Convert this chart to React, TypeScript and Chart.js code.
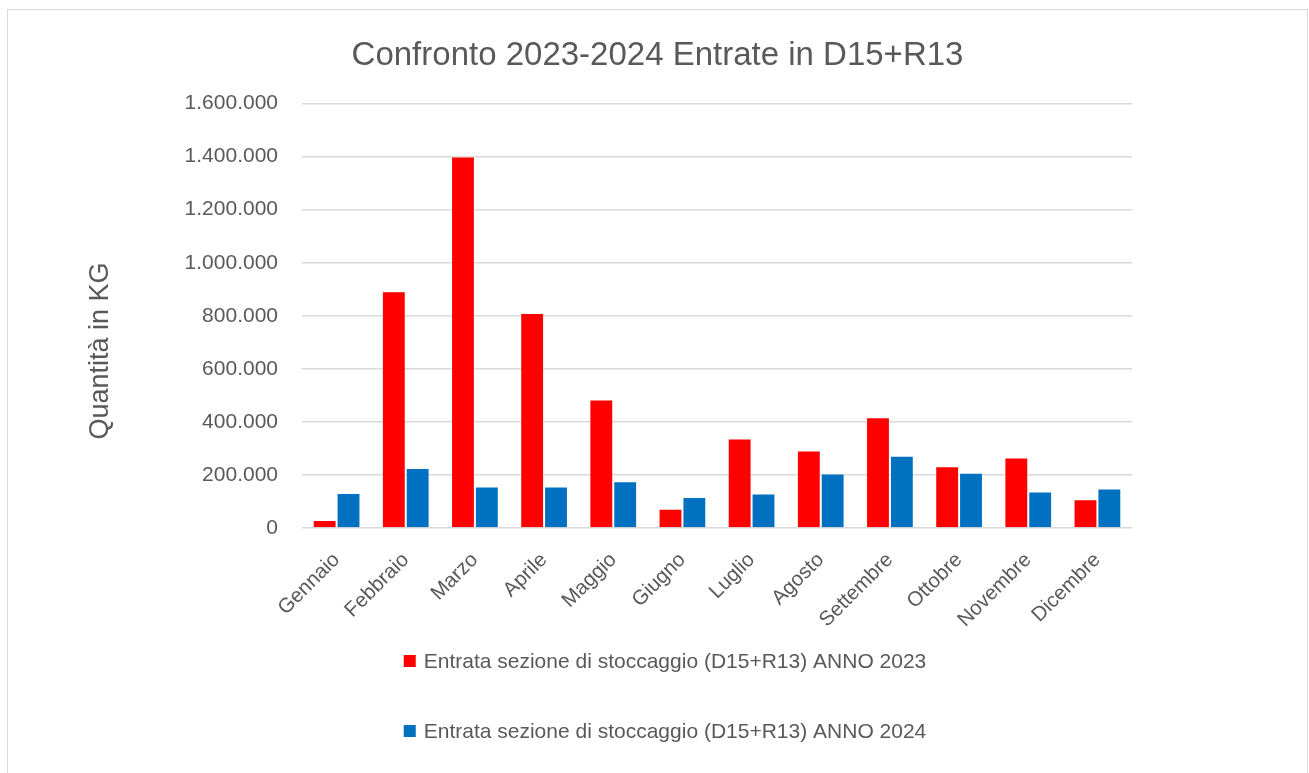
import React, { useEffect, useRef } from 'react';
import { Chart, registerables } from 'chart.js';

Chart.register(...registerables);

const chartTitle = 'Confronto 2023-2024 Entrate in D15+R13';
const yAxisTitle = 'Quantità in KG';
const categories = [
  'Gennaio', 'Febbraio', 'Marzo', 'Aprile', 'Maggio', 'Giugno',
  'Luglio', 'Agosto', 'Settembre', 'Ottobre', 'Novembre', 'Dicembre',
];
const seriesLabels = [
  'Entrata sezione di stoccaggio (D15+R13) ANNO 2023',
  'Entrata sezione di stoccaggio (D15+R13) ANNO 2024',
];
const values2023 = [30500, 893000, 1400500, 811000, 484000, 73000, 337000, 292000, 418000, 233000, 266000, 108000];
const values2024 = [132000, 226000, 156000, 156000, 176000, 117000, 130000, 205000, 272000, 208000, 138000, 149000];
const yMin = 0;
const yMax = 1600000;
const yStep = 200000;

const seriesColors = ['#FF0000', '#0070C0'];
const FONT = "'Liberation Sans', Arial, sans-serif";
const TEXT_COLOR = '#595959';
const GRID_COLOR = '#D9D9D9';

const formatIt = (v: number) => String(Math.round(v)).replace(/\B(?=(\d{3})+(?!\d))/g, '.');

const decorPlugin = {
  id: 'decor',
  afterDraw(chart: any) {
    const ctx = chart.ctx as CanvasRenderingContext2D;
    const area = chart.chartArea;
    ctx.save();
    // y axis title
    ctx.font = `27px ${FONT}`;
    ctx.fillStyle = TEXT_COLOR;
    ctx.textAlign = 'center';
    ctx.textBaseline = 'middle';
    ctx.translate(93, area.bottom - 177);
    ctx.rotate(-Math.PI / 2);
    ctx.fillText(yAxisTitle, 0, 0);
    ctx.restore();

    // stacked legend
    ctx.save();
    ctx.font = `21px ${FONT}`;
    ctx.textAlign = 'left';
    ctx.textBaseline = 'middle';
    const ds = chart.data.datasets;
    const widths = ds.map((d: any) => 20 + ctx.measureText(d.label).width);
    const maxW = Math.max(...widths);
    const x0 = 657 - maxW / 2;
    ds.forEach((d: any, i: number) => {
      const y = area.bottom + 133 + i * 70;
      ctx.fillStyle = d.backgroundColor;
      ctx.fillRect(x0, y - 6, 12, 12);
      ctx.fillStyle = TEXT_COLOR;
      ctx.fillText(d.label, x0 + 20, y + 1);
    });
    ctx.restore();
  },
};

export default function App() {
  const canvasRef = useRef<HTMLCanvasElement | null>(null);

  useEffect(() => {
    if (!canvasRef.current) return;
    const chart = new Chart(canvasRef.current, {
      type: 'bar',
      data: {
        labels: categories,
        datasets: [
          {
            label: seriesLabels[0],
            data: values2023,
            backgroundColor: seriesColors[0],
            borderColor: 'rgba(255,255,255,0.35)',
            borderWidth: 1,
            categoryPercentage: 0.69,
            barPercentage: 1,
          },
          {
            label: seriesLabels[1],
            data: values2024,
            backgroundColor: seriesColors[1],
            borderColor: 'rgba(255,255,255,0.35)',
            borderWidth: 1,
            categoryPercentage: 0.69,
            barPercentage: 1,
          },
        ],
      },
      options: {
        responsive: false,
        animation: false,
        layout: { padding: { left: 0, right: 0, top: 0, bottom: 142 } },
        plugins: {
          legend: { display: false },
          tooltip: { enabled: false },
          title: {
            display: true,
            text: chartTitle,
            color: TEXT_COLOR,
            font: { family: FONT, size: 33, weight: 'normal' },
            padding: { top: 26, bottom: 28 },
          },
        },
        scales: {
          x: {
            grid: { display: false, drawTicks: false },
            border: { display: false },
            ticks: {
              color: TEXT_COLOR,
              font: { family: FONT, size: 20.5 },
              minRotation: 45,
              maxRotation: 45,
              padding: 20,
              labelOffset: 0,
              autoSkip: false,
            },
            afterFit: (s: any) => { s.height = 100; },
          },
          y: {
            min: yMin,
            max: yMax,
            grid: { color: GRID_COLOR, lineWidth: 1.5, drawTicks: false },
            border: { display: false },
            ticks: {
              stepSize: yStep,
              color: TEXT_COLOR,
              font: { family: FONT, size: 21 },
              padding: 24,
              callback: (v: any) => formatIt(Number(v)),
            },
            afterFit: (s: any) => { s.width = 294; },
          },
          yRight: {
            position: 'right',
            display: true,
            grid: { display: false, drawTicks: false },
            border: { display: false },
            ticks: { display: false },
            afterFit: (s: any) => { s.width = 175; },
          },
        },
      },
      plugins: [decorPlugin],
    } as any);
    return () => chart.destroy();
  }, []);

  return (
    <div
      style={{
        position: 'fixed',
        left: 7,
        top: 9,
        width: 1299,
        height: 790,
        border: '1px solid #D9D9D9',
        background: '#FFFFFF',
      }}
    >
      <canvas ref={canvasRef} width={1299} height={760} style={{ display: 'block' }} />
    </div>
  );
}
